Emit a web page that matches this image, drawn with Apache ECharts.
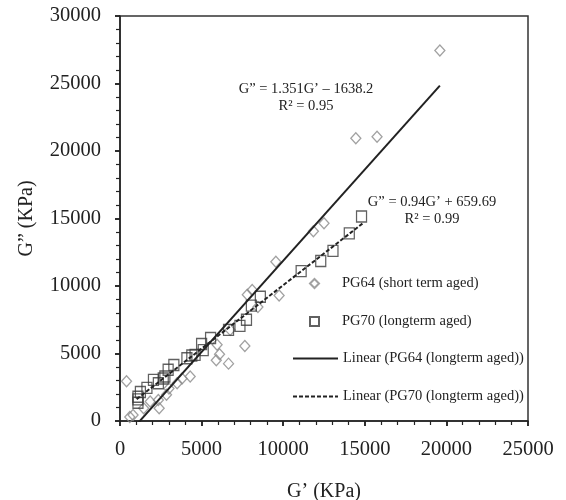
<!DOCTYPE html>
<html>
<head>
<meta charset="utf-8">
<script src="https://cdn.jsdelivr.net/npm/echarts@6/dist/echarts.min.js"></script>
<style>html,body{margin:0;padding:0;background:#fff;}#c{width:566px;height:500px;}</style>
</head>
<body>
<div id="c"></div>
<script>
// PG64 (short term aged) – G' values and G'' values (KPa)
var pg64X = [19600,14450,15750,12500,11850,9550,8100,7800,9750,8450,7650,5950,6100,5900,6650,6750,4300,3800,400,2400,2850,2350,1850,1450,800,600,3000,3500];
var pg64Y = [27450,20950,21050,14650,14050,11800,9700,9350,9300,8450,5550,5650,4950,4500,4250,6750,3300,3150,2950,950,1950,1550,1450,950,450,300,2400,2800];
// PG70 (longterm aged)
var pg70X = [14800,14050,13050,12300,11100,8600,8050,7750,7350,6650,5550,5000,5100,4600,4100,4400,3300,2950,2750,2650,2350,2050,1650,1250,1100,1100,1100];
var pg70Y = [15150,13900,12600,11850,11100,9200,8550,7500,7050,6750,6150,5700,5250,4900,4650,4850,4150,3800,3300,3150,2800,3050,2450,2150,1800,1350,1600];
// Trend lines (equations shown on chart)
var fit64 = {slope: 1.351, intercept: -1638.2, xRange: [1150, 19600]};
var fit70 = {slope: 0.94, intercept: 659.69, xRange: [1020, 14900]};
var xTicks = [0, 5000, 10000, 15000, 20000, 25000];
var yTicks = [0, 5000, 10000, 15000, 20000, 25000, 30000];
var seriesNames = ['PG64 (short term aged)', 'PG70 (longterm aged)', 'Linear (PG64 (longterm aged))', 'Linear (PG70 (longterm aged))'];
var eq64 = ['G\u201D = 1.351G\u2019 \u2013 1638.2', 'R\u00B2 = 0.95'];
var eq70 = ['G\u201D = 0.94G\u2019 + 659.69', 'R\u00B2 = 0.99'];

function pairs(xs, ys){ return xs.map(function(x,i){ return [x, ys[i]]; }); }
function fitLine(f){ return f.xRange.map(function(x){ return [x, f.slope*x + f.intercept]; }); }

var FONT = '"Liberation Serif","Times New Roman",serif';
var INK = '#222';
var chart = echarts.init(document.getElementById('c'), null, {renderer:'canvas'});
var plain = function(v){ return String(v); };
var baseX = {type:'value', min:xTicks[0], max:xTicks[xTicks.length-1], interval:5000, splitLine:{show:false}};
var baseY = {type:'value', min:yTicks[0], max:yTicks[yTicks.length-1], interval:5000, splitLine:{show:false}};
chart.setOption({
  animation:false,
  backgroundColor:'#fff',
  grid:{left:120, right:38, top:16, bottom:79, containLabel:false, outerBoundsMode:'none',
        show:true, borderColor:'#333', borderWidth:1.5, backgroundColor:'transparent'},
  xAxis:[
    Object.assign({}, baseX, {
      name:'G\u2019 (KPa)', nameLocation:'middle', nameGap:61,
      nameTextStyle:{fontFamily:FONT, fontSize:20, color:INK},
      axisLine:{lineStyle:{color:INK, width:1.5}},
      axisTick:{show:true, length:5, lineStyle:{color:INK, width:1.5}},
      minorTick:{show:true, splitNumber:5, length:4, lineStyle:{color:INK, width:1.2}},
      axisLabel:{fontFamily:FONT, fontSize:20.5, color:INK, margin:18, formatter:plain}
    }),
    Object.assign({}, baseX, {
      axisLine:{show:false}, axisLabel:{show:false},
      axisTick:{show:true, inside:true, length:5, lineStyle:{color:INK, width:1.5}}
    })
  ],
  yAxis:[
    Object.assign({}, baseY, {
      name:'G\u201D (KPa)', nameLocation:'middle', nameGap:83,
      nameTextStyle:{fontFamily:FONT, fontSize:20, color:INK},
      axisLine:{lineStyle:{color:INK, width:1.5}},
      axisTick:{show:true, length:5, lineStyle:{color:INK, width:1.5}},
      minorTick:{show:true, splitNumber:5, length:4, lineStyle:{color:INK, width:1.2}},
      axisLabel:{fontFamily:FONT, fontSize:20.5, color:INK, margin:19, formatter:plain}
    }),
    Object.assign({}, baseY, {
      axisLine:{show:false}, axisLabel:{show:false},
      axisTick:{show:true, inside:true, length:5, lineStyle:{color:INK, width:1.5}}
    })
  ],
  legend:[
    {
      orient:'vertical', left:309, top:276, padding:0, itemWidth:9, itemHeight:9, itemGap:23,
      textStyle:{fontFamily:FONT, fontSize:14.5, color:INK, padding:[0,0,0,18]},
      data:[seriesNames[0], seriesNames[1]]
    },
    {
      orient:'vertical', left:292, top:351, padding:0, itemWidth:45, itemHeight:9, itemGap:23,
      itemStyle:{opacity:0},
      textStyle:{fontFamily:FONT, fontSize:14.5, color:INK},
      data:[seriesNames[2], seriesNames[3]]
    }
  ],
  graphic:[
    {type:'text', style:{text:eq64[0], x:306, y:89, textAlign:'center', textVerticalAlign:'middle', font:'14.5px '+FONT, fill:INK}},
    {type:'text', style:{text:eq64[1], x:306, y:106, textAlign:'center', textVerticalAlign:'middle', font:'14.5px '+FONT, fill:INK}},
    {type:'text', style:{text:eq70[0], x:432, y:202, textAlign:'center', textVerticalAlign:'middle', font:'14.5px '+FONT, fill:INK}},
    {type:'text', style:{text:eq70[1], x:432, y:219, textAlign:'center', textVerticalAlign:'middle', font:'14.5px '+FONT, fill:INK}}
  ],
  series:[
    {name:seriesNames[0], type:'scatter', symbol:'diamond', symbolSize:[10,11],
     itemStyle:{color:'rgba(255,255,255,0)', borderColor:'#8a8a8a', borderWidth:1.3},
     data:pairs(pg64X, pg64Y), z:3},
    {name:seriesNames[1], type:'scatter', symbol:'rect', symbolSize:[10,11],
     itemStyle:{color:'rgba(255,255,255,0)', borderColor:'#3a3a3a', borderWidth:1.3},
     data:pairs(pg70X, pg70Y), z:3},
    {name:seriesNames[2], type:'line', showSymbol:false, symbol:'none',
     lineStyle:{color:INK, width:2}, itemStyle:{color:INK},
     data:fitLine(fit64), z:4},
    {name:seriesNames[3], type:'line', showSymbol:false, symbol:'none',
     lineStyle:{color:INK, width:2, type:[4,2]}, itemStyle:{color:INK},
     data:fitLine(fit70), z:4}
  ]
});
</script>
</body>
</html>
